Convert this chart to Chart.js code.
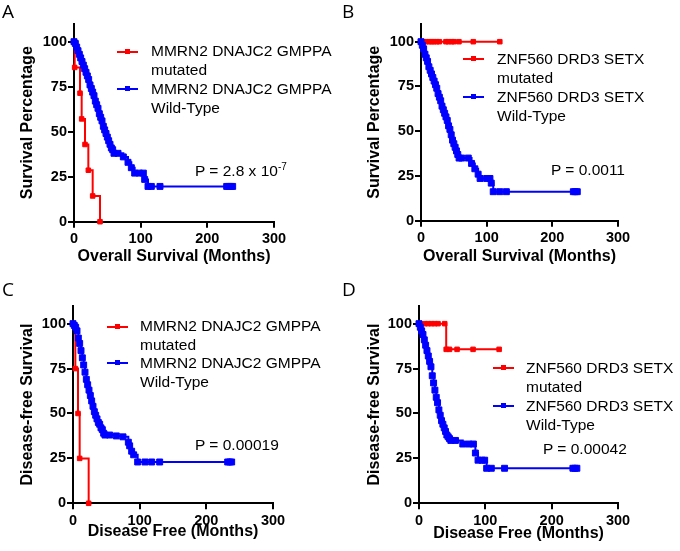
<!DOCTYPE html>
<html>
<head>
<meta charset="utf-8">
<script src="https://cdn.jsdelivr.net/npm/chart.js@4"></script>
<style>
  body { margin: 0; background: #fff; }
  #wrap { position: relative; width: 680px; height: 551px; background: #fff; overflow: hidden; }
  canvas { position: absolute; }
  .txt { position: absolute; font-family: "Liberation Sans", Arial, sans-serif; font-size: 15.5px; line-height: 18.5px; color: #000; white-space: nowrap; }
  .letter { position: absolute; font-family: "Open Sans", sans-serif; font-size: 19px; line-height: 19px; color: #000; }
  .ln { position: absolute; height: 2px; }
  .mk { position: absolute; width: 5px; height: 5px; }
  sup { font-size: 10px; vertical-align: 6px; line-height: 0; }
</style>
</head>
<body>
<div id="wrap">
  <canvas id="cA" width="340" height="275" style="left:0;top:0"></canvas>
  <canvas id="cB" width="340" height="275" style="left:340px;top:0"></canvas>
  <canvas id="cC" width="340" height="276" style="left:0;top:275px"></canvas>
  <canvas id="cD" width="340" height="276" style="left:340px;top:275px"></canvas>

  <div class="letter" style="left:2px;top:2px">A</div>
  <div class="letter" style="left:342px;top:2px">B</div>
  <div class="letter" style="left:2px;top:280px">C</div>
  <div class="letter" style="left:342px;top:280px">D</div>

  <!-- legend A -->
  <div class="ln" style="left:117px;top:51px;width:21px;background:#f00"></div>
  <div class="mk" style="left:125px;top:49px;background:#f00"></div>
  <div class="txt" style="left:151px;top:42px">MMRN2 DNAJC2 GMPPA<br>mutated</div>
  <div class="ln" style="left:117px;top:88px;width:21px;background:#00f"></div>
  <div class="mk" style="left:125px;top:86px;background:#00f"></div>
  <div class="txt" style="left:151px;top:80px">MMRN2 DNAJC2 GMPPA<br>Wild-Type</div>
  <div class="txt" style="left:195px;top:162px">P = 2.8 x 10<sup>-7</sup></div>

  <!-- legend B -->
  <div class="ln" style="left:463px;top:58px;width:21px;background:#f00"></div>
  <div class="mk" style="left:471px;top:56px;background:#f00"></div>
  <div class="txt" style="left:497px;top:50px">ZNF560 DRD3 SETX<br>mutated</div>
  <div class="ln" style="left:463px;top:96px;width:21px;background:#00f"></div>
  <div class="mk" style="left:471px;top:94px;background:#00f"></div>
  <div class="txt" style="left:497px;top:88px">ZNF560 DRD3 SETX<br>Wild-Type</div>
  <div class="txt" style="left:551px;top:161px">P = 0.0011</div>

  <!-- legend C -->
  <div class="ln" style="left:107px;top:326px;width:21px;background:#f00"></div>
  <div class="mk" style="left:115px;top:324px;background:#f00"></div>
  <div class="txt" style="left:140px;top:317px">MMRN2 DNAJC2 GMPPA<br>mutated</div>
  <div class="ln" style="left:107px;top:362px;width:21px;background:#00f"></div>
  <div class="mk" style="left:115px;top:360px;background:#00f"></div>
  <div class="txt" style="left:140px;top:354px">MMRN2 DNAJC2 GMPPA<br>Wild-Type</div>
  <div class="txt" style="left:195px;top:436px">P = 0.00019</div>

  <!-- legend D -->
  <div class="ln" style="left:493px;top:367px;width:21px;background:#f00"></div>
  <div class="mk" style="left:501px;top:365px;background:#f00"></div>
  <div class="txt" style="left:526px;top:359px">ZNF560 DRD3 SETX<br>mutated</div>
  <div class="ln" style="left:493px;top:405px;width:21px;background:#00f"></div>
  <div class="mk" style="left:501px;top:403px;background:#00f"></div>
  <div class="txt" style="left:526px;top:397px">ZNF560 DRD3 SETX<br>Wild-Type</div>
  <div class="txt" style="left:543px;top:440px">P = 0.00042</div>
</div>

<script>
// axis ticks
var xTicks = [0, 100, 200, 300];
var yTicks = [0, 25, 50, 75, 100];

// A - overall survival, MMRN2 DNAJC2 GMPPA
var monthsA_mut = [0, 1, 9, 11.5, 16.5, 21.5, 28, 39];
var survA_mut   = [100, 85.7, 71.4, 57.1, 42.9, 28.6, 14.3, 0];
var monthsA_wt = [0,2,4,6,8,10,12,14,16,18,20,22,24,26,28,30,32,34,36,38,40,42,44,46,48,50,52,54,56,58,60,66,74,81,86,91,98,104,106,111,116,129,229,232,235,238];
var survA_wt   = [100,99,97,95,93,91,89,87,85,83,81,79,76,74,72,70,67,65,63,60,58,56,53,51,49,47,45,43,41,40,38,38,36,33,30,27,27,27,23.5,19.6,19.6,19.6,19.6,19.6,19.6,19.6];

// B - overall survival, ZNF560 DRD3 SETX
var monthsB_mut = [0, 3.5, 7.6, 12.7, 16.2, 19.8, 23.9, 27.9, 38, 41.6, 46.7, 50.2, 57.8, 79.6, 120];
var survB_mut   = [100, 100, 100, 100, 100, 100, 100, 100, 100, 100, 100, 100, 100, 100, 100];
var monthsB_wt = [0,2,4,6,8,10,12,14,16,18,20,22,24,26,28,30,32,34,36,38,40,42,44,46,48,50,52,54,56,58,62,72,77,82,87,90,100,105,107,110,120,130,232,235,238];
var survB_wt   = [100,98,96,93,91,89,86,84,82,80,78,76,74,71,69,67,64,62,60,58,56,53,51,48,45,43,41,39,37,35,35,35,32,29,26,23.6,23.6,23.6,21,16.2,16.2,16.2,16.2,16.2,16.2];

// C - disease free, MMRN2 DNAJC2 GMPPA
var monthsC_mut = [0, 3.5, 7.5, 10, 23.5];
var survC_mut   = [100, 75, 50, 25, 0];
var monthsC_wt = [0,2,4,6,8,10,12,14,16,18,20,22,24,26,28,30,32,34,36,38,40,42,44,46,48,55,65,75,83,85,88,91,97,108,118,130,232,235,238];
var survC_wt   = [100,99,98,96,92,89,85,81,77,73,69,66,63,60,57,54,51,49,47,45,44,42,41,39,38,38,37.5,37,34,32,29,27,23,23,23,23,23,23,23];

// D - disease free, ZNF560 DRD3 SETX
var monthsD_mut = [0, 8.6, 13.6, 18.6, 23.6, 28.7, 38.8, 41, 46, 57.4, 81.5, 120.8];
var survD_mut   = [100, 100, 100, 100, 100, 100, 100, 85.7, 85.7, 85.7, 85.7, 85.7];
var monthsD_wt = [0,2,4,6,8,10,12,14,16,18,20,22,24,26,28,30,32,34,36,38,40,42,44,46,48,55,66,75,82,85,89,95,99,102,109,129,232,235,238];
var survD_wt   = [100,98,96,94,91,88,85,82,79,76,71,67,63,59,56,52,49,46,44,42,40,38,37,36,35,35,33,33,33,28,24,24,24,19.5,19.5,19.5,19.5,19.5,19.5];

var RED = 'rgb(255,0,0)', BLUE = 'rgb(0,0,255)';

function pts(xs, ys) {
  return xs.map(function(x, i) { return {x: x, y: ys[i]}; });
}

function series(xs, ys, color, r) {
  return {
    data: pts(xs, ys),
    borderColor: color,
    backgroundColor: color,
    borderWidth: 2,
    stepped: true,
    pointStyle: 'rect',
    pointRadius: r,
    pointBorderWidth: 1,
    clip: false
  };
}

var tickFont = {family: 'Liberation Sans', weight: 'bold', size: 14.5};
var titleFont = {family: 'Liberation Sans', weight: 'bold', size: 16};

// p: left/right = x pixels of 0 and 300, top/bottom = y pixels of 110 and 0
function makePanel(id, p, mutX, mutY, wtX, wtY) {
  var cv = document.getElementById(id);
  var H = cv.height, W = cv.width;
  return new Chart(cv.getContext('2d'), {
    type: 'line',
    data: { datasets: [series(wtX, wtY, BLUE, 4.2), series(mutX, mutY, RED, 3.2)] },
    options: {
      responsive: false,
      animation: false,
      layout: { padding: { top: p.top, right: W - p.right, bottom: 0, left: 0 } },
      plugins: { legend: { display: false }, tooltip: { enabled: false } },
      scales: {
        x: {
          type: 'linear', min: 0, max: 300,
          afterBuildTicks: function(s) { s.ticks = xTicks.map(function(v) { return {value: v}; }); },
          afterFit: function(s) { s.height = H - p.bottom; },
          grid: { drawOnChartArea: false, drawTicks: true, tickLength: 6, color: '#000', lineWidth: 2 },
          border: { display: true, color: '#000', width: 2 },
          ticks: { font: tickFont, color: '#000', padding: 3, maxRotation: 0 },
          title: { display: true, text: p.xTitle, font: titleFont, color: '#000', padding: {top: 0, bottom: p.xPad} }
        },
        y: {
          type: 'linear', min: 0, max: 110,
          afterBuildTicks: function(s) { s.ticks = yTicks.map(function(v) { return {value: v}; }); },
          afterFit: function(s) { s.width = p.left; },
          grid: { drawOnChartArea: false, drawTicks: true, tickLength: 6, color: '#000', lineWidth: 2 },
          border: { display: true, color: '#000', width: 2 },
          ticks: { font: tickFont, color: '#000', padding: 1 },
          title: { display: true, text: p.yTitle, font: titleFont, color: '#000', padding: {top: p.yPad, bottom: 0} }
        }
      }
    }
  });
}

makePanel('cA', {left: 74, right: 274, top: 23.7, bottom: 221.7, xTitle: 'Overall Survival (Months)', yTitle: 'Survival Percentage', xPad: 8.5, yPad: 17.9},
  monthsA_mut, survA_mut, monthsA_wt, survA_wt);
makePanel('cB', {left: 81, right: 278, top: 23.8, bottom: 220.7, xTitle: 'Overall Survival (Months)', yTitle: 'Survival Percentage', xPad: 8.7, yPad: 25.4},
  monthsB_mut, survB_mut, monthsB_wt, survB_wt);
makePanel('cC', {left: 73, right: 273, top: 30.7, bottom: 228.3, xTitle: 'Disease Free (Months)', yTitle: 'Disease-free Survival', xPad: 9.7, yPad: 17.9},
  monthsC_mut, survC_mut, monthsC_wt, survC_wt);
makePanel('cD', {left: 79, right: 278, top: 30.7, bottom: 228.3, xTitle: 'Disease Free (Months)', yTitle: 'Disease-free Survival', xPad: 8.1, yPad: 25.4},
  monthsD_mut, survD_mut, monthsD_wt, survD_wt);
</script>
</body>
</html>
